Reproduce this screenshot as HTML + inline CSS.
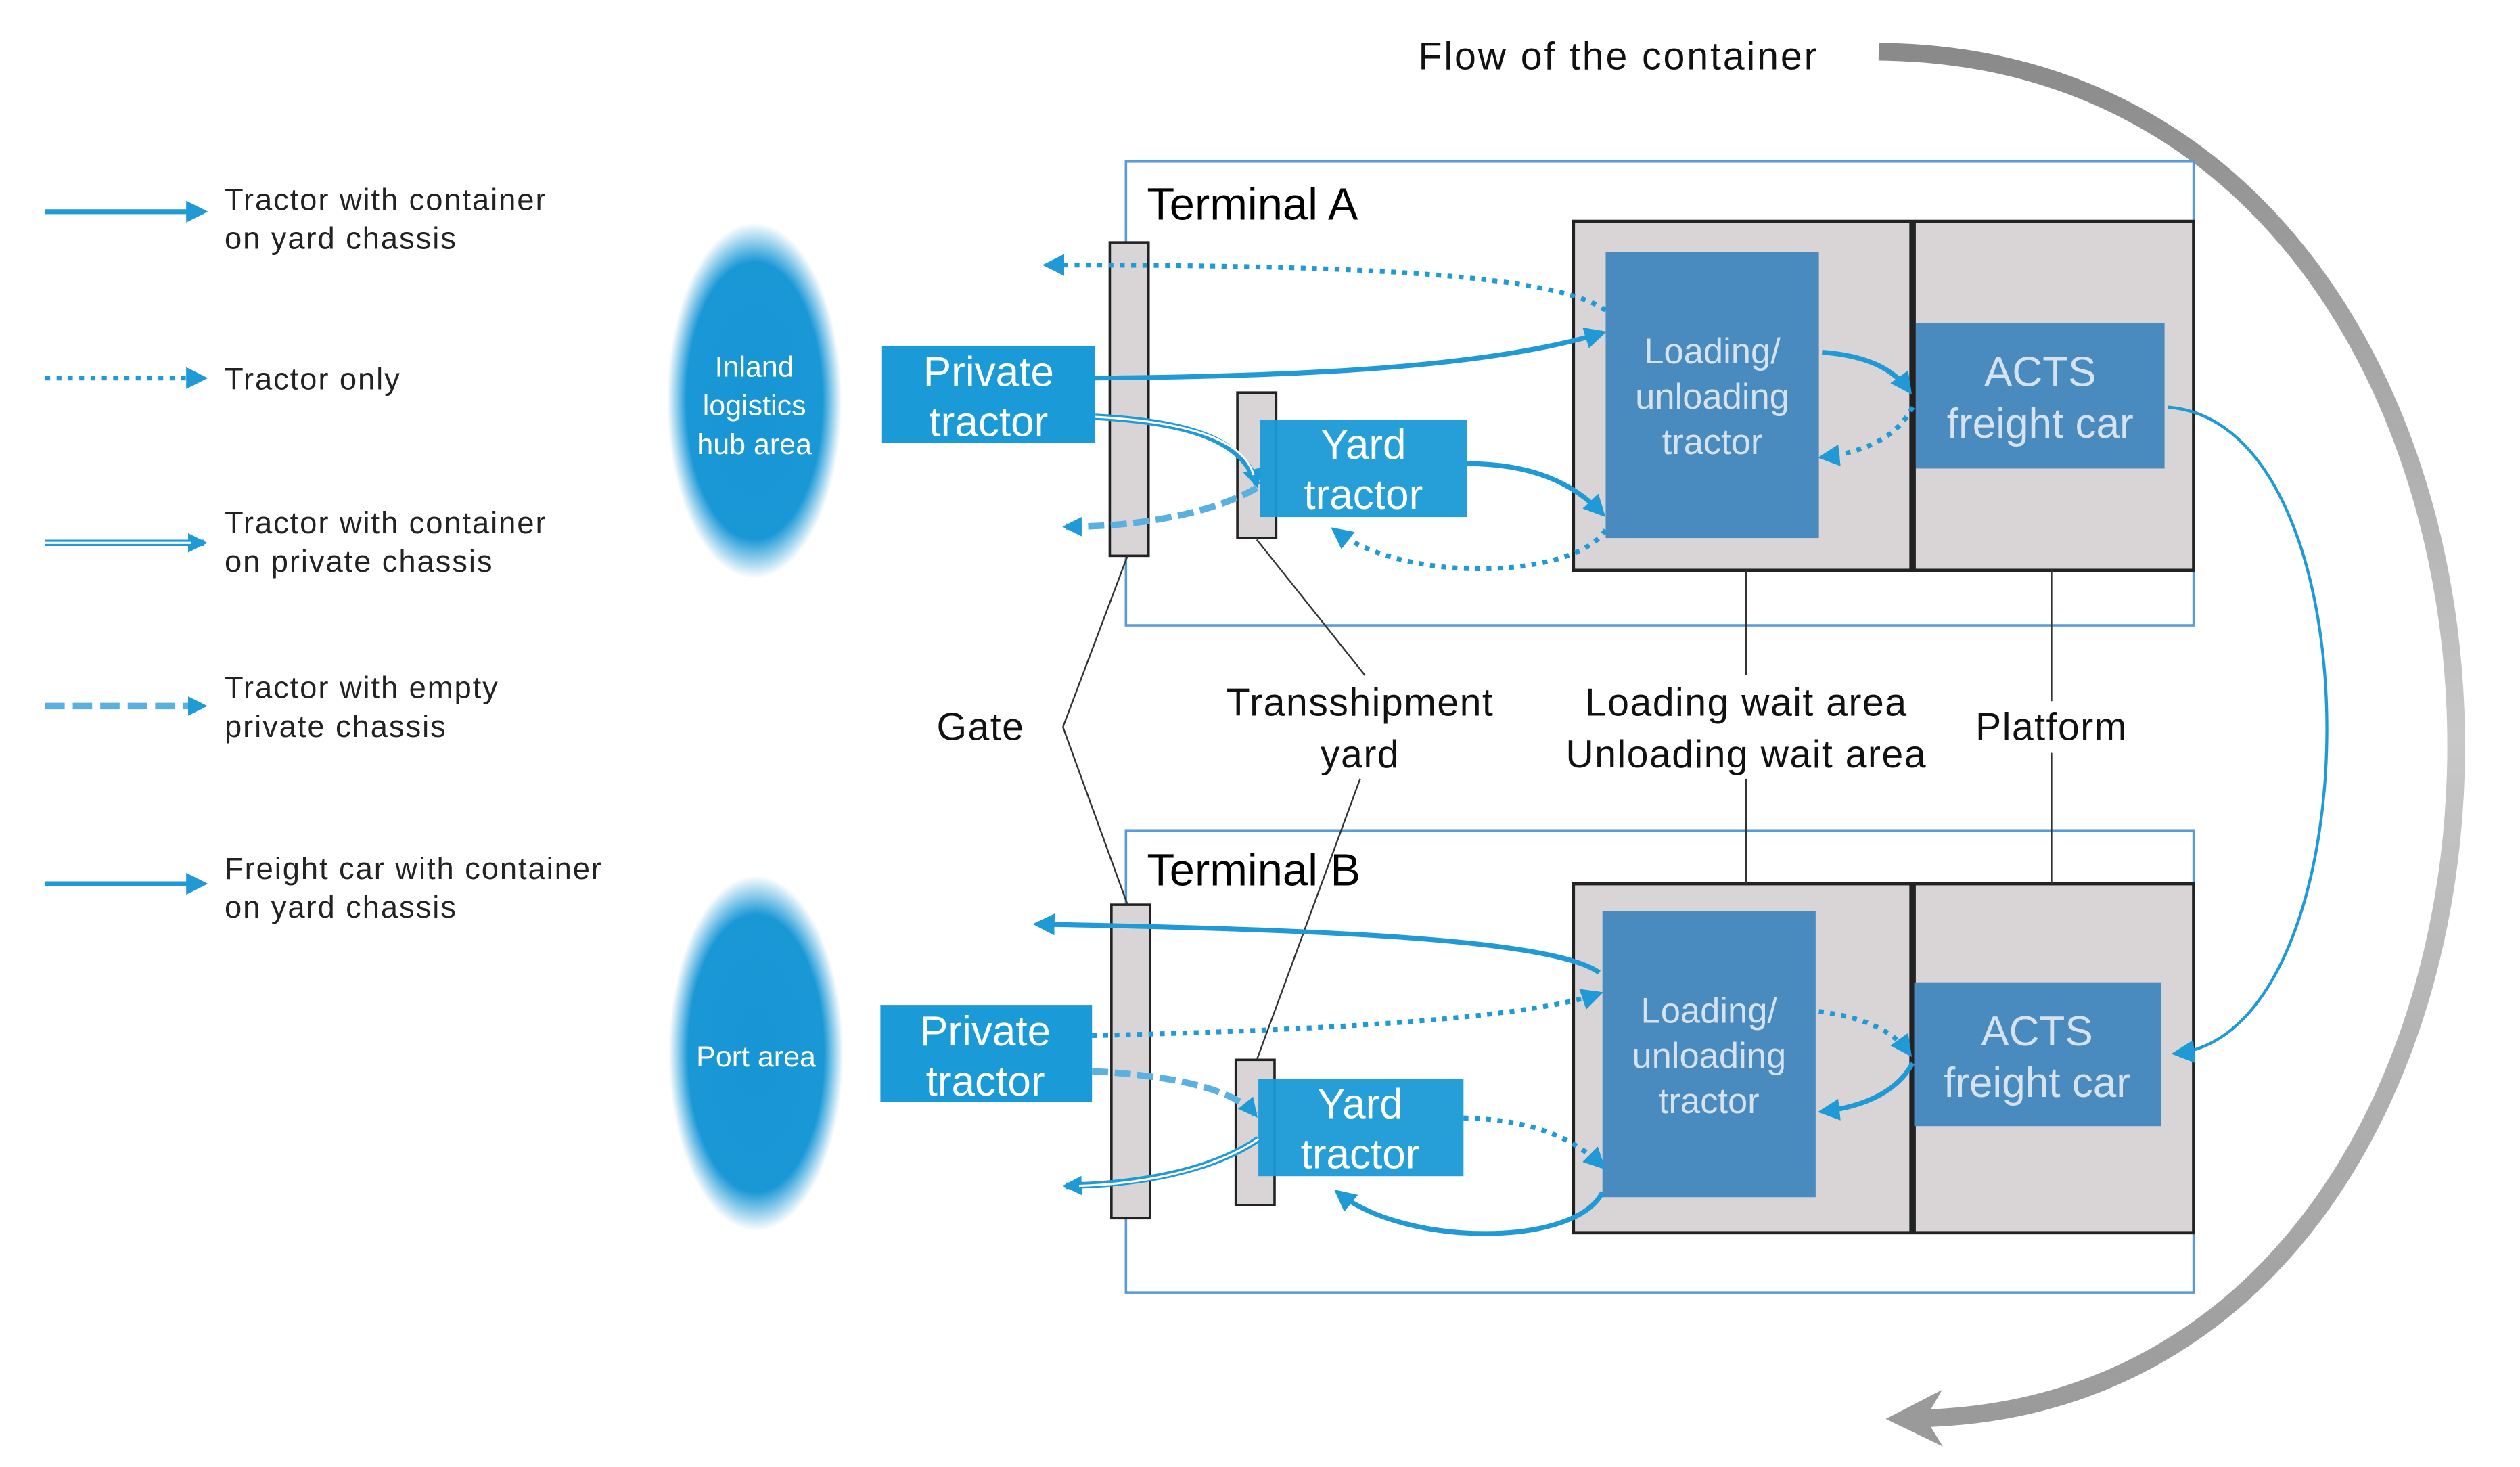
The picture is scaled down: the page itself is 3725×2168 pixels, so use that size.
<!DOCTYPE html>
<html><head><meta charset="utf-8"><style>
html,body{margin:0;padding:0;background:#fff;}
svg{display:block;}
text{font-family:"Liberation Sans","DejaVu Sans",sans-serif;}
</style></head><body>
<svg width="3725" height="2168" viewBox="0 0 1560 908" xmlns="http://www.w3.org/2000/svg">
<defs>
<marker id="ah" viewBox="0 0 10 10" refX="8" refY="5" markerWidth="4.5" markerHeight="4.5" orient="auto" markerUnits="strokeWidth"><path d="M0,0 L10,5 L0,10 z" fill="#1f9ad6"/></marker>
<marker id="ah2" viewBox="0 0 10 10" refX="8" refY="5" markerWidth="3" markerHeight="3" orient="auto" markerUnits="strokeWidth"><path d="M0,0 L10,5 L0,10 z" fill="#1f9ad6"/></marker>
<marker id="ahs" viewBox="0 0 10 10" refX="8" refY="5" markerWidth="8" markerHeight="8" orient="auto" markerUnits="strokeWidth"><path d="M0,0 L10,5 L0,10 z" fill="#1f9ad6"/></marker>
<marker id="ahg" viewBox="0 0 10 10" refX="5" refY="5" markerWidth="3.2" markerHeight="3.2" orient="auto" markerUnits="strokeWidth"><path d="M0,0 L10,5 L0,10 L3,5 z" fill="#9a9a9a"/></marker>
<radialGradient id="eg" cx="0.5" cy="0.5" r="0.5">
<stop offset="0" stop-color="#1795d4"/><stop offset="0.78" stop-color="#1a98d6"/><stop offset="1" stop-color="#ffffff"/>
</radialGradient>
<linearGradient id="gg" x1="0" y1="0" x2="0" y2="1">
<stop offset="0" stop-color="#8a8a8a"/><stop offset="0.5" stop-color="#c8c8c8"/><stop offset="1" stop-color="#9a9a9a"/>
</linearGradient>
</defs>

<text x="878" y="43" font-size="24" fill="#111" letter-spacing="1.2">Flow of the container</text>
<path d="M1163,32 C1636,36 1636,872 1185,878" fill="none" stroke="url(#gg)" stroke-width="11" marker-end="url(#ahg)"/>

<g stroke="#1f9ad6" fill="none">
<line x1="28" y1="131" x2="126" y2="131" stroke-width="3" marker-end="url(#ah)"/>
<line x1="28" y1="234" x2="126" y2="234" stroke-width="3" stroke-dasharray="3,4" marker-end="url(#ah)"/>
<line x1="28" y1="336" x2="126" y2="336" stroke-width="4" marker-end="url(#ah2)"/>
<line x1="28" y1="336" x2="118" y2="336" stroke-width="1.4" stroke="#fff"/>
<line x1="28" y1="437" x2="126" y2="437" stroke-width="4" stroke="#5ab0e0" stroke-dasharray="12,5" marker-end="url(#ah2)"/>
<line x1="28" y1="547" x2="126" y2="547" stroke-width="3" marker-end="url(#ah)"/>
</g>
<g font-size="19" fill="#222" letter-spacing="0.8">
<text x="139" y="130">Tractor with container</text><text x="139" y="154">on yard chassis</text>
<text x="139" y="241">Tractor only</text>
<text x="139" y="330">Tractor with container</text><text x="139" y="354">on private chassis</text>
<text x="139" y="432">Tractor with empty</text><text x="139" y="456">private chassis</text>
<text x="139" y="544">Freight car with container</text><text x="139" y="568">on yard chassis</text>
</g>

<ellipse cx="467" cy="248" rx="54" ry="110" fill="url(#eg)"/>
<g font-size="18" fill="#fff" text-anchor="middle">
<text x="467" y="233">Inland</text><text x="467" y="257">logistics</text><text x="467" y="281">hub area</text>
</g>
<ellipse cx="468" cy="652" rx="54" ry="110" fill="url(#eg)"/>
<text x="468" y="660" font-size="18" fill="#fff" text-anchor="middle">Port area</text>

<rect x="697" y="100" width="661" height="287" fill="none" stroke="#5b9bd5" stroke-width="1.5"/>
<text x="710" y="136" font-size="28" fill="#000">Terminal A</text>
<rect x="974" y="137" width="384" height="216" fill="#d9d5d6" stroke="#222" stroke-width="2"/>
<line x1="1184" y1="137" x2="1184" y2="353" stroke="#222" stroke-width="4"/>
<rect x="994" y="156" width="132" height="177" fill="#4a8bbf"/>
<g font-size="22" fill="#d6e3ee" text-anchor="middle"><text x="1060" y="225">Loading/</text><text x="1060" y="253">unloading</text><text x="1060" y="281">tractor</text></g>
<rect x="1186" y="200" width="154" height="90" fill="#4a8bbf"/>
<g font-size="26" fill="#d6e3ee" text-anchor="middle"><text x="1263" y="239">ACTS</text><text x="1263" y="271">freight car</text></g>
<rect x="687" y="150" width="24" height="194" fill="#d9d5d6" stroke="#222" stroke-width="1.5"/>
<rect x="546" y="214" width="132" height="60" fill="#1a9ad6"/>
<g font-size="26" fill="#fff" text-anchor="middle"><text x="612" y="239">Private</text><text x="612" y="270">tractor</text></g>
<rect x="766" y="243" width="24" height="90" fill="#d9d5d6" stroke="#222" stroke-width="1.5"/>
<rect x="780" y="260" width="128" height="60" fill="#1a9ad6" opacity="0.95"/>
<g font-size="26" fill="#fff" text-anchor="middle"><text x="844" y="284">Yard</text><text x="844" y="315">tractor</text></g>

<rect x="697" y="514" width="661" height="286" fill="none" stroke="#5b9bd5" stroke-width="1.5"/>
<text x="710" y="548" font-size="28" fill="#000">Terminal B</text>
<rect x="974" y="547" width="384" height="216" fill="#d9d5d6" stroke="#222" stroke-width="2"/>
<line x1="1184" y1="547" x2="1184" y2="763" stroke="#222" stroke-width="4"/>
<rect x="992" y="564" width="132" height="177" fill="#4a8bbf"/>
<g font-size="22" fill="#d6e3ee" text-anchor="middle"><text x="1058" y="633">Loading/</text><text x="1058" y="661">unloading</text><text x="1058" y="689">tractor</text></g>
<rect x="1185" y="608" width="153" height="89" fill="#4a8bbf"/>
<g font-size="26" fill="#d6e3ee" text-anchor="middle"><text x="1261" y="647">ACTS</text><text x="1261" y="679">freight car</text></g>
<rect x="688" y="560" width="24" height="194" fill="#d9d5d6" stroke="#222" stroke-width="1.5"/>
<rect x="545" y="622" width="131" height="60" fill="#1a9ad6"/>
<g font-size="26" fill="#fff" text-anchor="middle"><text x="610" y="647">Private</text><text x="610" y="678">tractor</text></g>
<rect x="765" y="656" width="24" height="90" fill="#d9d5d6" stroke="#222" stroke-width="1.5"/>
<rect x="779" y="668" width="127" height="60" fill="#1a9ad6" opacity="0.95"/>
<g font-size="26" fill="#fff" text-anchor="middle"><text x="842" y="692">Yard</text><text x="842" y="723">tractor</text></g>

<g font-size="24" fill="#111" text-anchor="middle" letter-spacing="0.6">
<text x="607" y="458">Gate</text>
<text x="842" y="443">Transshipment</text><text x="842" y="475">yard</text>
<text x="1081" y="443">Loading wait area</text><text x="1081" y="475">Unloading wait area</text>
<text x="1270" y="458">Platform</text>
</g>
<g stroke="#333" stroke-width="1" fill="none">
<polyline points="698,344 658,450 698,560"/>
<line x1="778" y1="334" x2="845" y2="418"/>
<line x1="842" y1="482" x2="778" y2="656"/>
<line x1="1081" y1="353" x2="1081" y2="418"/>
<line x1="1081" y1="482" x2="1081" y2="547"/>
<line x1="1270" y1="353" x2="1270" y2="434"/>
<line x1="1270" y1="466" x2="1270" y2="547"/>
</g>

<g fill="none" stroke="#1f9ad6">
<path d="M994,192 C960,168 820,164 648,164" stroke-width="3" stroke-dasharray="3,4" marker-end="url(#ah)"/>
<path d="M678,234 C800,233 920,228 992,206" stroke-width="3" marker-end="url(#ah)"/>
<path d="M678,258 C735,261 770,272 778,300" stroke-width="4" marker-end="url(#ah2)"/>
<path d="M678,258 C735,261 770,272 776,294" stroke-width="1.3" stroke="#fff"/>
<path d="M778,302 C750,318 705,326 660,326" stroke-width="4" stroke="#5ab0e0" stroke-dasharray="10,4" marker-end="url(#ah2)"/>
<path d="M908,287 C950,287 975,300 992,318" stroke-width="3" marker-end="url(#ah)"/>
<path d="M994,328 C975,358 870,362 826,328" stroke-width="3" stroke-dasharray="3,4" marker-end="url(#ah)"/>
<path d="M1128,218 C1155,220 1172,228 1182,242" stroke-width="3" marker-end="url(#ah)"/>
<path d="M1184,252 C1175,270 1155,280 1128,283" stroke-width="3" stroke-dasharray="3,4" marker-end="url(#ah)"/>
<path d="M1342,252 C1475,262 1470,640 1347,652" stroke-width="1.8" marker-end="url(#ahs)"/>
</g>

<g fill="none" stroke="#1f9ad6">
<path d="M990,602 C960,580 800,575 642,572" stroke-width="3" marker-end="url(#ah)"/>
<path d="M676,641 C800,638 940,632 990,615" stroke-width="3" stroke-dasharray="3,4" marker-end="url(#ah)"/>
<path d="M676,663 C730,666 765,675 777,690" stroke-width="4" stroke="#5ab0e0" stroke-dasharray="10,4" marker-end="url(#ah2)"/>
<path d="M779,705 C750,725 705,733 660,734" stroke-width="4" marker-end="url(#ah2)"/>
<path d="M779,705 C750,725 705,733 668,734" stroke-width="1.3" stroke="#fff"/>
<path d="M906,692 C950,693 975,705 992,722" stroke-width="3" stroke-dasharray="3,4" marker-end="url(#ah)"/>
<path d="M992,738 C975,772 870,772 828,738" stroke-width="3" marker-end="url(#ah)"/>
<path d="M1126,626 C1155,630 1172,638 1182,652" stroke-width="3" stroke-dasharray="3,4" marker-end="url(#ah)"/>
<path d="M1184,658 C1175,675 1155,685 1128,688" stroke-width="3" marker-end="url(#ah)"/>
</g>
</svg>
</body></html>
